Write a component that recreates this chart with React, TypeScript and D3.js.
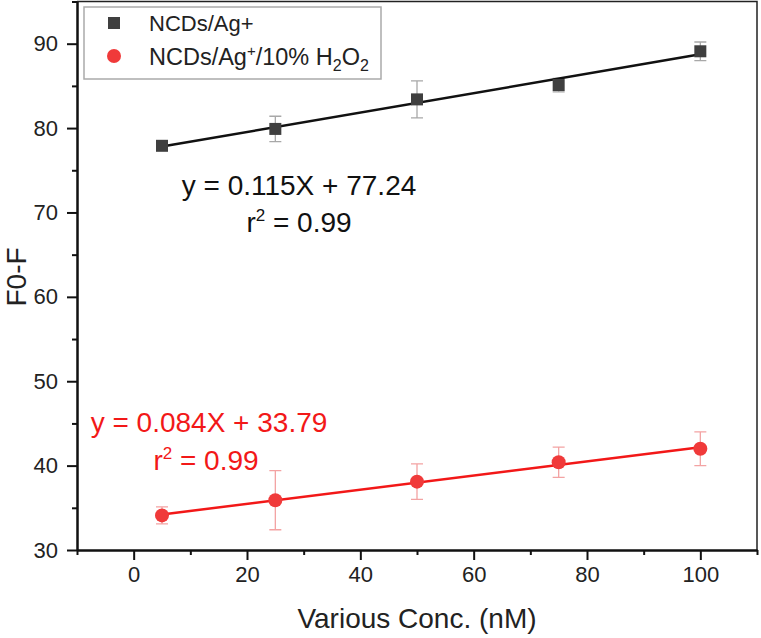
import React, { useEffect, useRef } from "react";
import { axisBottom, axisLeft, line, range, scaleLinear, select } from "d3";

// data
const conc = [5, 25, 50, 75, 100];
const agMean = [77.9, 79.9, 83.4, 85.1, 89.1];
const agErr = [0.3, 1.5, 2.2, 0.8, 1.1];
const h2o2Mean = [34.1, 35.9, 38.1, 40.4, 42.0];
const h2o2Err = [1.0, 3.5, 2.1, 1.8, 2.0];
// linear fits as printed on the chart: [slope, intercept]
const agFit = [0.115, 77.24];
const h2o2Fit = [0.084, 33.79];
const xMajor = [0, 20, 40, 60, 80, 100];
const yMajor = [30, 40, 50, 60, 70, 80, 90];

export default function App() {
  const ref = useRef<SVGSVGElement>(null);

  useEffect(() => {
    document.body.style.margin = "0";
    const width = 761;
    const height = 638;
    const font = "'Liberation Sans', Arial, Helvetica, sans-serif";
    const svg = select(ref.current).attr("width", width).attr("height", height);
    svg.selectAll("*").remove();
    svg.style("font-family", font);

    const x = scaleLinear().domain([-10, 110]).range([77, 757]);
    const y = scaleLinear().domain([30, 95]).range([550, 1.5]);

    // frame (top + right)
    svg
      .append("path")
      .attr("d", `M${x(-10)},${y(95)}H${x(110)}V${y(30)}`)
      .attr("fill", "none")
      .attr("stroke", "#222")
      .attr("stroke-width", 1.5);

    // axes: major ticks with labels, minor ticks without
    const gx = svg.append("g").attr("transform", `translate(0,${y(30)})`);
    gx.call(axisBottom(x).tickValues(xMajor).tickSize(10).tickSizeOuter(0).tickPadding(6));
    gx.append("g").call(
      axisBottom(x)
        .tickValues(range(-10, 111, 20))
        .tickSize(5)
        .tickSizeOuter(0)
        .tickFormat(() => "")
    );
    const gy = svg.append("g").attr("transform", `translate(${x(-10)},0)`);
    gy.call(axisLeft(y).tickValues(yMajor).tickSize(10).tickSizeOuter(0).tickPadding(9));
    gy.append("g").call(
      axisLeft(y)
        .tickValues(range(35, 96, 10))
        .tickSize(5)
        .tickSizeOuter(0)
        .tickFormat(() => "")
    );
    svg.selectAll(".domain").attr("stroke", "#111").attr("stroke-width", 2);
    svg.selectAll(".tick line").attr("stroke", "#111").attr("stroke-width", 2);
    svg
      .selectAll(".tick text")
      .attr("font-size", 22)
      .attr("font-family", font)
      .attr("fill", "#222");

    // axis titles
    svg
      .append("text")
      .text("Various Conc. (nM)")
      .attr("x", 417)
      .attr("y", 628)
      .attr("text-anchor", "middle")
      .attr("font-size", 28)
      .attr("fill", "#222");
    svg
      .append("text")
      .text("F0-F")
      .attr("transform", "translate(26,277) rotate(-90)")
      .attr("text-anchor", "middle")
      .attr("font-size", 28)
      .attr("fill", "#222");

    const drawSeries = (
      mean: number[],
      err: number[],
      fit: number[],
      barColor: string,
      lineColor: string,
      markColor: string,
      shape: "square" | "circle"
    ) => {
      const g = svg.append("g");
      conc.forEach((c, i) => {
        const cx = x(c);
        const top = y(mean[i] + err[i]);
        const bot = y(mean[i] - err[i]);
        g.append("path")
          .attr("d", `M${cx},${top}V${bot}M${cx - 6},${top}H${cx + 6}M${cx - 6},${bot}H${cx + 6}`)
          .attr("stroke", barColor)
          .attr("stroke-width", 1.3)
          .attr("fill", "none");
      });
      const lg = line<number>()
        .x((d) => x(d))
        .y((d) => y(fit[0] * d + fit[1]));
      g.append("path")
        .attr("d", lg([conc[0], conc[conc.length - 1]]))
        .attr("stroke", lineColor)
        .attr("stroke-width", 2.5)
        .attr("fill", "none");
      conc.forEach((c, i) => {
        if (shape === "square") {
          g.append("rect")
            .attr("x", x(c) - 6)
            .attr("y", y(mean[i]) - 6)
            .attr("width", 12)
            .attr("height", 12)
            .attr("fill", markColor);
        } else {
          g.append("circle")
            .attr("cx", x(c))
            .attr("cy", y(mean[i]))
            .attr("r", 7)
            .attr("fill", markColor);
        }
      });
    };

    drawSeries(agMean, agErr, agFit, "#a8a8a8", "#111", "#3f3f3f", "square");
    drawSeries(h2o2Mean, h2o2Err, h2o2Fit, "#f3a3a3", "#f21818", "#f03a3a", "circle");

    // fit annotations
    const annot = (lines: [string, number, number][], color: string) => {
      lines.forEach(([t, cx, by]) => {
        const txt = svg
          .append("text")
          .attr("x", cx)
          .attr("y", by)
          .attr("text-anchor", "middle")
          .attr("font-size", 28)
          .attr("fill", color);
        if (t.startsWith("r2")) {
          txt.append("tspan").text("r");
          txt.append("tspan").text("2").attr("font-size", 17).attr("dy", -11);
          txt.append("tspan").text(t.slice(2)).attr("dy", 11);
        } else {
          txt.text(t);
        }
      });
    };
    annot(
      [
        [`y = ${agFit[0].toFixed(3)}X + ${agFit[1].toFixed(2)}`, 299, 195],
        ["r2 = 0.99", 299, 232],
      ],
      "#111"
    );
    annot(
      [
        [`y = ${h2o2Fit[0].toFixed(3)}X + ${h2o2Fit[1].toFixed(2)}`, 209, 432],
        ["r2 = 0.99", 206, 470],
      ],
      "#f21818"
    );

    // legend
    const leg = svg.append("g");
    leg
      .append("rect")
      .attr("x", 84)
      .attr("y", 7)
      .attr("width", 297)
      .attr("height", 72)
      .attr("fill", "#fff")
      .attr("stroke", "#aaa")
      .attr("stroke-width", 1.5);
    leg.append("rect").attr("x", 108).attr("y", 17).attr("width", 12).attr("height", 12).attr("fill", "#3f3f3f");
    leg.append("circle").attr("cx", 114).attr("cy", 56).attr("r", 7).attr("fill", "#f03a3a");
    leg
      .append("text")
      .text("NCDs/Ag+")
      .attr("x", 149)
      .attr("y", 31)
      .attr("font-size", 22)
      .attr("fill", "#222");
    const t2 = leg.append("text").attr("x", 149).attr("y", 65).attr("font-size", 23.5).attr("fill", "#222");
    t2.append("tspan").text("NCDs/Ag");
    t2.append("tspan").text("+").attr("font-size", 15).attr("dy", -9);
    t2.append("tspan").text("/10% H").attr("dy", 9);
    t2.append("tspan").text("2").attr("font-size", 16).attr("dy", 6);
    t2.append("tspan").text("O").attr("dy", -6);
    t2.append("tspan").text("2").attr("font-size", 16).attr("dy", 6);
  }, []);

  return (
    <div style={{ padding: 0 }}>
      <svg ref={ref} style={{ display: "block" }}></svg>
    </div>
  );
}
